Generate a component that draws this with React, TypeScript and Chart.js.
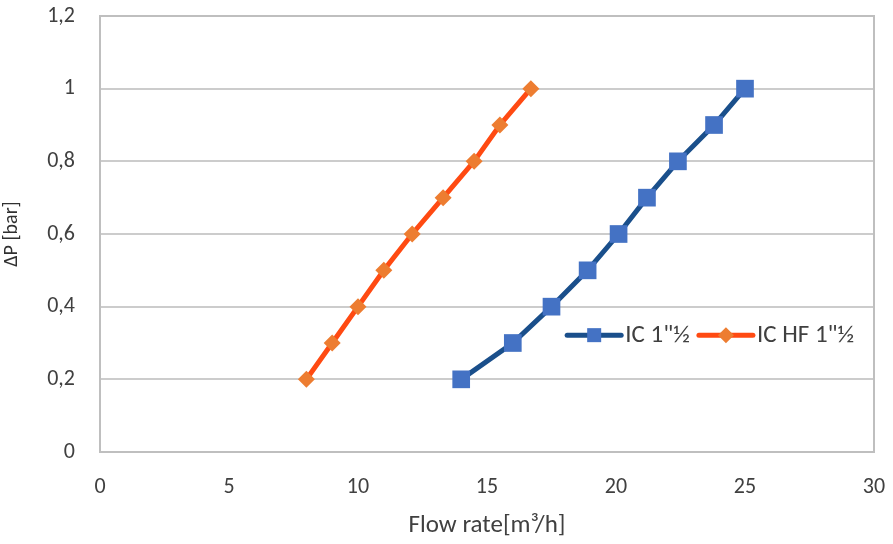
import React, { useEffect, useRef } from "react";
import { Chart, registerables } from "chart.js";

Chart.register(...registerables);

const seriesNames = ['IC 1"½', 'IC HF 1"½'];
const flowIC = [14, 16, 17.5, 18.9, 20.1, 21.2, 22.4, 23.8, 25];
const dpIC = [0.2, 0.3, 0.4, 0.5, 0.6, 0.7, 0.8, 0.9, 1.0];
const flowHF = [8, 9, 10, 11, 12.1, 13.3, 14.5, 15.5, 16.7];
const dpHF = [0.2, 0.3, 0.4, 0.5, 0.6, 0.7, 0.8, 0.9, 1.0];
const xTicks = [0, 5, 10, 15, 20, 25, 30];
const yTicks = [0, 0.2, 0.4, 0.6, 0.8, 1, 1.2];
const xTitle = "Flow rate[m³/h]";
const yTitle = "ΔP [bar]";

const FONT = "Calibri, Carlito, Lato, 'Liberation Sans', sans-serif";
const BLUE_LINE = "#1a4f8b";
const BLUE_MARK = "#4472c4";
const ORANGE_LINE = "#ff4a12";
const ORANGE_MARK = "#ed7d31";
const TEXT = "#404040";

const fmt = (v: number) => String(Number(v.toFixed(1))).replace(".", ",");

const legendPlugin = {
  id: "insideLegend",
  afterDraw(chart: any) {
    const ctx = chart.ctx;
    const area = chart.chartArea;
    const y = area.top + (area.bottom - area.top) * 0.732;
    let x = area.left + (area.right - area.left) * 0.601;
    ctx.save();
    ctx.font = `25px ${FONT}`;
    ctx.textBaseline = "middle";
    const items = [
      { color: BLUE_LINE, mark: BLUE_MARK, shape: "rect", name: seriesNames[0] },
      { color: ORANGE_LINE, mark: ORANGE_MARK, shape: "rectRot", name: seriesNames[1] },
    ];
    items.forEach((it) => {
      ctx.strokeStyle = it.color;
      ctx.lineWidth = 5;
      ctx.lineCap = "round";
      ctx.beginPath();
      ctx.moveTo(x + 2, y);
      ctx.lineTo(x + 56, y);
      ctx.stroke();
      ctx.fillStyle = it.mark;
      const cx = x + 29;
      if (it.shape === "rect") {
        ctx.fillRect(cx - 7, y - 7, 14, 14);
      } else {
        ctx.beginPath();
        ctx.moveTo(cx, y - 8);
        ctx.lineTo(cx + 8, y);
        ctx.lineTo(cx, y + 8);
        ctx.lineTo(cx - 8, y);
        ctx.closePath();
        ctx.fill();
      }
      ctx.fillStyle = TEXT;
      ctx.fillText(it.name, x + 60, y + 1);
      x += 60 + ctx.measureText(it.name).width + 7;
    });
    ctx.restore();
  },
};

const borderPlugin = {
  id: "plotBorder",
  beforeDatasetsDraw(chart: any) {
    const { ctx, chartArea: a } = chart;
    ctx.save();
    ctx.strokeStyle = "#bfbfbf";
    ctx.lineWidth = 2;
    ctx.strokeRect(a.left, a.top, a.right - a.left, a.bottom - a.top);
    ctx.restore();
  },
};

export default function App() {
  const ref = useRef<HTMLCanvasElement>(null);
  useEffect(() => {
    document.body.style.margin = "0";
    const chart = new Chart(ref.current!, {
      type: "scatter",
      data: {
        datasets: [
          {
            label: seriesNames[0],
            data: flowIC.map((x, i) => ({ x, y: dpIC[i] })),
            showLine: true,
            borderColor: BLUE_LINE,
            borderWidth: 5,
            backgroundColor: BLUE_MARK,
            pointBackgroundColor: BLUE_MARK,
            pointBorderWidth: 0,
            pointStyle: "rect",
            pointRadius: 12.5,
            tension: 0,
          },
          {
            label: seriesNames[1],
            data: flowHF.map((x, i) => ({ x, y: dpHF[i] })),
            showLine: true,
            borderColor: ORANGE_LINE,
            borderWidth: 5,
            backgroundColor: ORANGE_MARK,
            pointBackgroundColor: ORANGE_MARK,
            pointBorderWidth: 0,
            pointStyle: "rectRot",
            pointRadius: 8.5,
            tension: 0,
          },
        ],
      },
      options: {
        animation: false,
        responsive: false,
        maintainAspectRatio: false,
        layout: { padding: { left: 0, top: 16, right: 19, bottom: 0 } },
        plugins: { legend: { display: false }, tooltip: { enabled: false } },
        scales: {
          x: {
            type: "linear",
            min: 0,
            max: 30,
            afterBuildTicks: (s: any) => {
              s.ticks = xTicks.map((v) => ({ value: v }));
            },
            afterFit: (s: any) => {
              s.height = 92;
              s.paddingLeft = 0;
              s.paddingRight = 0;
            },
            grid: { display: false, drawTicks: false },
            border: { display: false },
            ticks: {
              padding: 22,
              color: TEXT,
              font: { family: FONT, size: 22 },
              callback: (v: any) => String(v),
            },
            title: {
              display: true,
              text: xTitle,
              color: TEXT,
              font: { family: FONT, size: 25 },
              padding: { top: 10, bottom: 3 },
            },
          },
          y: {
            type: "linear",
            min: 0,
            max: 1.2,
            afterBuildTicks: (s: any) => {
              s.ticks = yTicks.map((v) => ({ value: v }));
            },
            afterFit: (s: any) => {
              s.width = 100;
              s.paddingTop = 0;
              s.paddingBottom = 0;
            },
            grid: { color: "#cccccc", lineWidth: 2, drawTicks: false },
            border: { display: false },
            ticks: {
              padding: 25,
              color: TEXT,
              font: { family: FONT, size: 22 },
              callback: (v: any) => fmt(Number(v)),
            },
            title: {
              display: true,
              text: yTitle,
              color: "#303030",
              font: { family: FONT, size: 20, weight: "500" },
              padding: { top: 0, bottom: 4 },
            },
          },
        },
      },
      plugins: [borderPlugin, legendPlugin],
    });
    return () => chart.destroy();
  }, []);
  return <canvas ref={ref} width={893} height={544} style={{ display: "block" }} />;
}
